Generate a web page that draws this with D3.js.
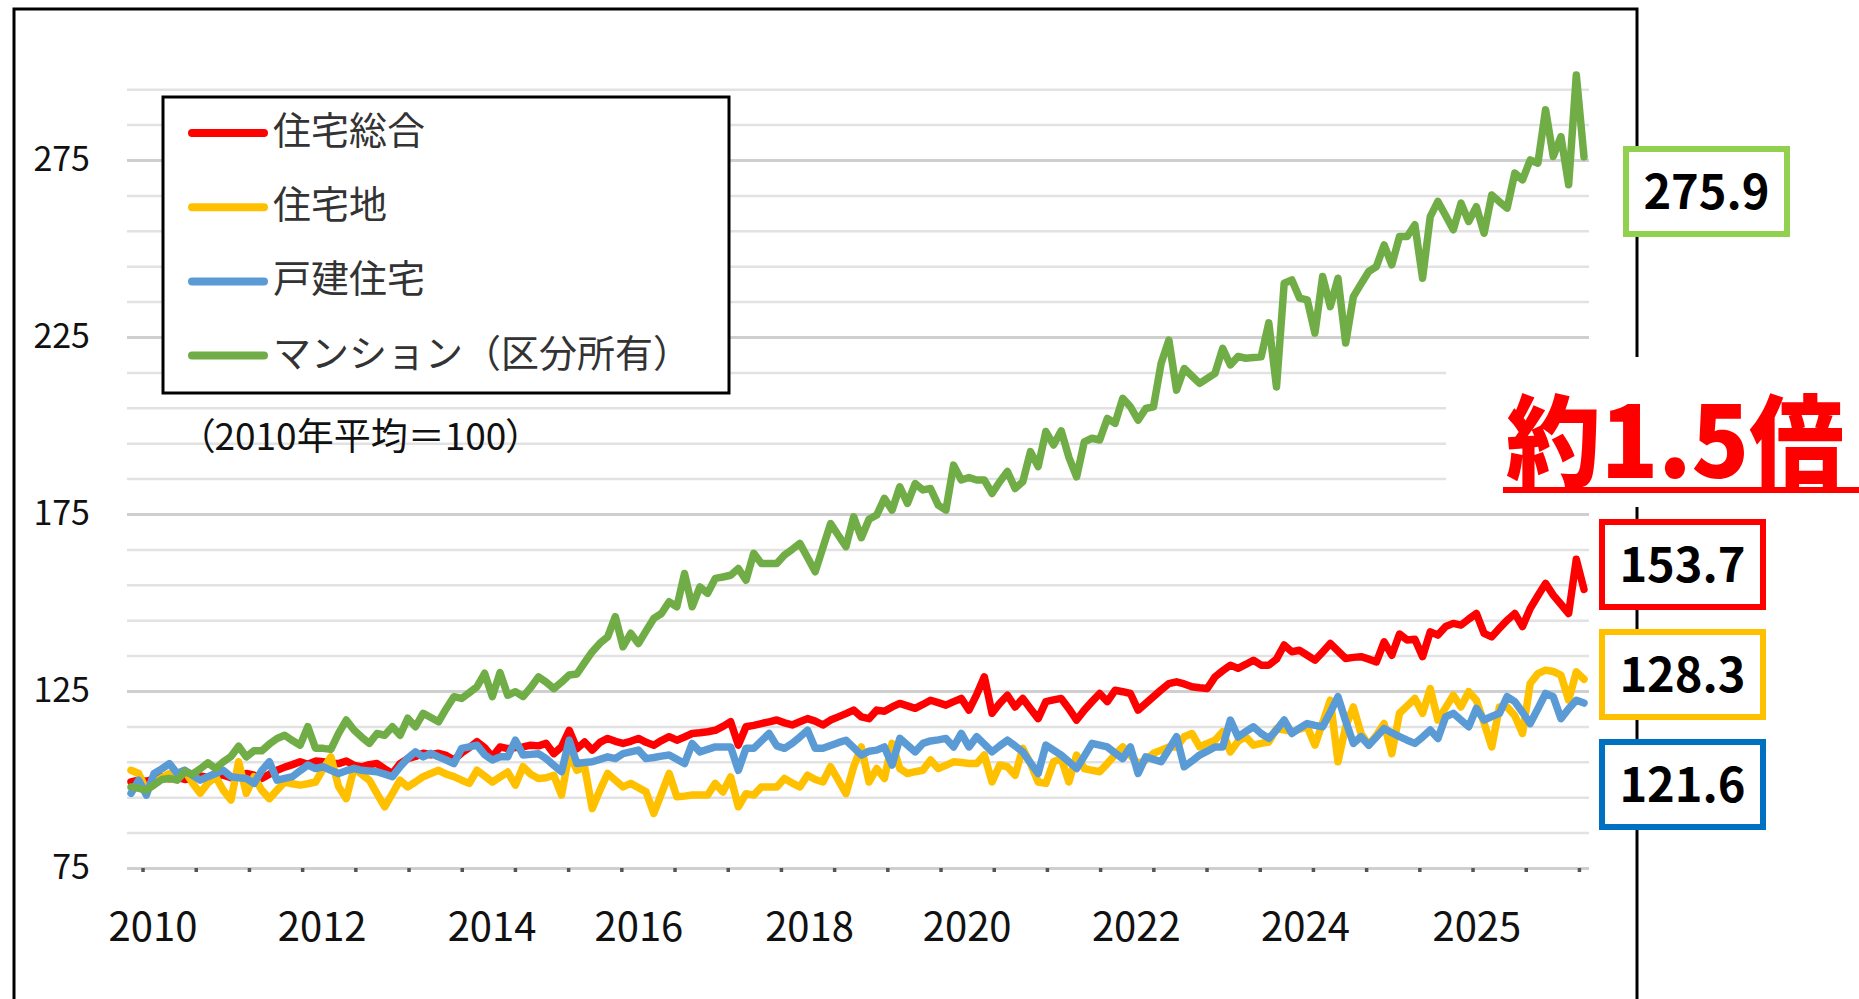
<!DOCTYPE html>
<html lang="ja">
<head>
<meta charset="utf-8">
<script src="https://cdn.jsdelivr.net/npm/d3@7"></script>
<style>
  body { margin: 0; background: #fff; }
  svg { display: block; background: #fff; }
  text { font-family: "Noto Sans CJK JP", "Noto Sans", sans-serif; }
</style>
</head>
<body>
<svg id="chart" width="1859" height="999"></svg>
<script>
// 不動産価格指数（2010年平均＝100、月次）
const seriesNames = ["住宅総合", "住宅地", "戸建住宅", "マンション（区分所有）"];

const sogo = [
  99.3, 99.8, 99.5, 100.2, 100.8, 100.2, 100.6, 100.0, 100.3, 101.0,
  100.6, 101.5, 101.2, 100.5, 101.0, 101.7, 101.2, 100.3, 101.5, 102.6,
  103.5, 104.2, 105.0, 104.3, 105.2, 105.0, 104.6, 104.5, 105.2, 104.0,
  103.6, 104.2, 104.5, 103.0, 101.7, 104.5, 105.9, 106.5, 107.4, 107.0,
  107.4, 106.8, 105.5, 107.5, 109.0, 110.7, 109.0, 106.4, 109.2, 108.7,
  109.0, 109.2, 109.7, 109.5, 110.2, 107.3, 109.2, 113.9, 108.7, 110.6,
  108.3, 110.5, 111.6, 110.8, 110.2, 110.8, 111.6, 110.5, 109.7, 111.0,
  112.1, 111.1, 112.0, 113.0, 113.2, 113.5, 113.9, 115.0, 116.3, 109.7,
  114.9, 115.3, 115.8, 116.3, 116.8, 116.0, 115.4, 116.3, 117.2, 116.5,
  115.4, 116.8, 117.7, 118.6, 119.6, 117.7, 117.2, 119.6, 119.3, 120.5,
  121.5, 120.8, 120.1, 121.2, 122.4, 121.7, 121.0, 122.0, 122.9, 119.6,
  124.0, 129.0, 118.7, 121.5, 123.8, 120.5, 122.9, 120.0, 117.2, 122.0,
  122.5, 122.9, 120.0, 116.8, 119.6, 122.0, 124.3, 122.0, 125.2, 124.8,
  124.3, 119.6, 121.5, 123.4, 125.3, 127.1, 127.6, 127.0, 126.2, 125.9,
  125.7, 129.0, 130.7, 132.3, 131.4, 132.5, 133.7, 132.3, 132.3, 134.0,
  138.0, 136.1, 136.5, 135.1, 133.7, 136.0, 138.4, 136.3, 134.2, 134.5,
  134.7, 134.0, 133.2, 138.9, 135.1, 141.1, 139.4, 139.6, 134.7, 141.7,
  140.8, 143.2, 144.1, 143.6, 145.3, 146.9, 141.3, 140.3, 142.7, 145.0,
  146.9, 143.2, 148.3, 151.9, 155.4, 152.1, 149.5, 146.9, 162.2, 153.7
];

const takuchi = [
  102.6, 101.7, 97.0, 98.9, 100.5, 101.7, 101.7, 102.6, 99.0, 96.1,
  99.0, 100.8, 97.0, 94.2, 105.0, 96.1, 100.8, 97.0, 94.6, 97.0,
  99.3, 98.8, 98.4, 98.8, 99.3, 103.0, 106.4, 98.0, 94.6, 103.1,
  101.5, 99.8, 96.0, 92.3, 96.0, 99.8, 97.9, 99.3, 100.8, 101.7,
  102.6, 101.5, 100.8, 99.8, 98.9, 102.6, 101.0, 99.3, 100.7, 102.1,
  98.4, 103.6, 101.5, 100.3, 100.5, 101.2, 95.6, 107.3, 102.6, 103.6,
  91.8, 97.0, 101.7, 99.8, 97.9, 98.9, 97.7, 96.5, 90.4, 96.0,
  101.7, 95.1, 95.3, 95.6, 95.6, 95.6, 98.9, 96.5, 100.7, 92.3,
  96.0, 95.6, 97.9, 97.9, 97.9, 100.3, 99.0, 97.9, 101.2, 100.0,
  99.3, 103.6, 99.8, 96.0, 103.6, 109.2, 99.3, 103.1, 100.3, 110.2,
  103.1, 101.7, 102.2, 102.6, 105.5, 103.1, 104.0, 105.0, 104.8, 104.5,
  104.5, 106.9, 99.3, 104.1, 103.6, 101.2, 108.8, 104.5, 99.3, 98.9,
  105.0, 105.9, 99.3, 106.9, 103.1, 102.6, 102.2, 104.5, 107.0, 109.2,
  106.9, 104.5, 105.5, 107.4, 108.3, 109.2, 109.2, 112.1, 113.0, 109.2,
  110.2, 111.1, 113.5, 107.8, 110.8, 112.1, 109.7, 110.2, 110.6, 114.4,
  114.0, 113.5, 114.2, 114.9, 109.7, 116.0, 122.4, 105.0, 114.9, 120.5,
  113.0, 109.7, 112.5, 115.8, 107.3, 118.7, 120.8, 122.9, 118.7, 125.7,
  116.8, 120.3, 123.8, 120.5, 124.8, 122.4, 116.0, 109.2, 120.5, 120.5,
  118.0, 113.0, 127.1, 129.9, 130.9, 130.5, 129.5, 122.4, 130.4, 128.3
];

const kodate = [
  96.1, 99.8, 95.6, 101.7, 103.0, 104.5, 101.7, 102.6, 101.2, 99.8,
  100.8, 101.7, 102.6, 100.8, 100.5, 100.3, 98.9, 102.5, 105.0, 99.8,
  100.3, 100.8, 102.5, 104.1, 103.1, 103.6, 102.6, 101.7, 102.5, 103.1,
  102.6, 102.4, 102.2, 101.5, 100.8, 103.6, 106.0, 107.8, 106.4, 107.4,
  106.4, 105.5, 104.5, 108.8, 109.2, 109.7, 107.0, 105.5, 106.4, 106.4,
  111.1, 106.9, 107.1, 107.3, 105.9, 104.0, 102.2, 111.1, 104.5, 104.8,
  105.0, 105.7, 106.4, 105.9, 107.3, 107.8, 108.3, 105.9, 106.2, 106.6,
  106.9, 105.7, 104.5, 110.2, 107.8, 108.5, 109.2, 109.2, 109.2, 102.6,
  108.8, 108.8, 110.9, 113.0, 109.5, 108.8, 110.2, 112.0, 113.9, 108.8,
  108.8, 109.6, 110.4, 111.1, 109.0, 106.9, 108.0, 108.3, 109.2, 104.1,
  111.6, 109.7, 107.8, 110.2, 110.9, 111.2, 111.6, 109.2, 113.0, 109.2,
  112.1, 110.0, 107.8, 109.5, 111.1, 109.5, 107.8, 104.7, 101.7, 109.7,
  108.3, 106.9, 105.0, 103.1, 106.6, 110.2, 109.7, 109.2, 107.5, 105.9,
  109.2, 101.7, 106.4, 105.7, 105.0, 108.5, 112.1, 103.6, 105.2, 106.9,
  108.0, 109.2, 109.2, 116.8, 112.0, 113.5, 114.9, 113.0, 111.6, 114.0,
  116.8, 113.0, 114.5, 115.8, 115.3, 114.9, 119.0, 123.4, 116.5, 110.2,
  112.1, 109.7, 112.0, 114.4, 113.2, 112.1, 111.1, 110.2, 112.0, 114.0,
  111.6, 117.7, 118.7, 116.8, 114.9, 120.1, 116.8, 117.8, 118.7, 123.4,
  122.0, 119.0, 115.8, 120.0, 124.3, 123.4, 117.2, 120.0, 122.4, 121.6
];

const mansion = [
  97.9, 97.5, 97.0, 98.5, 100.0, 100.3, 99.8, 102.2, 101.5, 103.0,
  104.7, 103.1, 105.0, 106.5, 109.4, 106.4, 108.1, 108.1, 110.0, 111.6,
  112.5, 111.0, 109.7, 114.9, 108.8, 108.8, 108.5, 113.0, 116.8, 114.0,
  112.0, 110.2, 113.0, 112.5, 114.9, 112.5, 117.3, 114.9, 118.7, 117.5,
  116.3, 120.0, 123.4, 122.9, 124.5, 126.2, 130.0, 123.4, 130.2, 123.8,
  124.8, 123.4, 126.0, 129.0, 127.5, 125.7, 127.5, 129.5, 129.8, 133.0,
  136.1, 138.5, 140.3, 146.0, 137.5, 141.3, 138.4, 142.0, 145.5, 146.9,
  150.2, 148.8, 158.2, 148.8, 154.4, 152.6, 156.8, 157.2, 157.7, 159.6,
  156.3, 163.9, 161.0, 161.0, 161.0, 163.4, 165.0, 166.7, 162.7, 158.7,
  165.5, 172.3, 169.0, 165.8, 174.2, 168.3, 173.5, 174.7, 179.4, 176.1,
  182.7, 178.0, 183.6, 181.8, 182.2, 177.5, 176.1, 188.8, 184.6, 185.3,
  184.6, 184.6, 180.8, 184.1, 187.0, 182.2, 184.1, 192.6, 188.4, 198.3,
  194.5, 198.5, 191.0, 185.5, 195.4, 196.4, 195.9, 202.0, 200.6, 207.7,
  205.3, 201.5, 204.8, 205.3, 217.6, 224.1, 210.0, 216.1, 214.0, 211.9,
  213.3, 214.7, 221.8, 217.1, 219.5, 219.0, 219.2, 219.4, 229.0, 210.9,
  240.2, 241.1, 236.0, 235.5, 226.1, 242.1, 233.6, 241.6, 223.3, 236.4,
  240.0, 243.5, 244.9, 251.0, 245.4, 253.4, 253.4, 256.7, 241.6, 259.0,
  263.3, 259.3, 255.3, 262.8, 257.6, 261.8, 254.3, 265.1, 263.2, 261.4,
  271.3, 269.4, 275.0, 274.1, 289.2, 276.0, 281.6, 268.0, 299.0, 275.9
];

// 目盛
const yGridValues = d3.range(75, 296, 10);
const yTickLabels = [75, 125, 175, 225, 275];
const xLabels = ["2010", "2012", "2014", "2016", "2018", "2020", "2022", "2024", "2025"];
const xLabelAt = [2.8, 24.8, 46.9, 66.0, 88.2, 108.7, 130.7, 152.7, 175.0];
const tickStart = 1.5;
const tickEvery = 6.92;

const noteText = "（2010年平均＝100）";
const ratioText = "約1.5倍";

function main() {
    const svg = d3.select("#chart");

    const series = [sogo, takuchi, kodate, mansion];
    const lineColors = ["#ff0000", "#ffc000", "#5b9bd5", "#70ad47"];
    const boxColors = ["#ff0000", "#ffc000", "#0070c0", "#92d050"];

    const n = sogo.length;
    const x = d3.scaleLinear().domain([0, n - 1]).range([131, 1584]);
    const y = d3.scaleLinear().domain([75, 275]).range([868, 160]);

    /**グリッドの左右端*/
    const gridLeft = 127;
    const gridRight = 1589;

    // 横グリッド線
    const grid = svg.append("g")
        .attr("transform", `translate(${gridLeft},0)`)
        .call(d3.axisLeft(y).tickValues(yGridValues).tickSize(-(gridRight - gridLeft)).tickFormat(""));
    grid.select(".domain").remove();
    grid.selectAll(".tick line")
        .attr("stroke", d => (d - 75) % 50 === 0 ? "#cfcfcf" : "#e2e2e2")
        .attr("stroke-width", d => (d - 75) % 50 === 0 ? 3 : 2.5);

    // x軸の目盛り（点）
    const tickIdx = d3.range(tickStart, n, tickEvery);
    const ticks = svg.append("g")
        .attr("transform", "translate(0,868)")
        .call(d3.axisBottom(x).tickValues(tickIdx).tickSize(4).tickFormat(""));
    ticks.select(".domain").remove();
    ticks.selectAll(".tick line").attr("stroke", "#555").attr("stroke-width", 3.5);

    // 折れ線
    const line = d3.line()
        .x((d, i) => x(i))
        .y(d => y(d));

    series.forEach((values, k) => {
        svg.append("path")
            .datum(values)
            .attr("d", line)
            .attr("fill", "none")
            .attr("stroke", lineColors[k])
            .attr("stroke-width", 7.5)
            .attr("stroke-linejoin", "round")
            .attr("stroke-linecap", "round");
    });

    // 凡例
    svg.append("rect")
        .attr("x", 163).attr("y", 97)
        .attr("width", 566).attr("height", 296)
        .attr("fill", "#fff").attr("stroke", "#000").attr("stroke-width", 3);

    seriesNames.forEach((name, k) => {
        const ly = 133 + k * 74.2;
        svg.append("line")
            .attr("x1", 192).attr("x2", 264)
            .attr("y1", ly).attr("y2", ly)
            .attr("stroke", lineColors[k])
            .attr("stroke-width", 8)
            .attr("stroke-linecap", "round");
        svg.append("text")
            .attr("x", 273).attr("y", ly + 11)
            .attr("font-size", 38)
            .attr("fill", "#333")
            .text(name);
    });

    // 注記
    svg.append("text")
        .attr("x", 196).attr("y", 450)
        .attr("font-size", 37)
        .attr("fill", "#111")
        .style("font-feature-settings", "'palt'")
        .text(noteText);

    // y軸ラベル
    const yAxis = svg.append("g")
        .attr("transform", "translate(90,0)")
        .call(d3.axisLeft(y).tickValues(yTickLabels).tickSize(0).tickPadding(0));
    yAxis.select(".domain").remove();
    yAxis.selectAll("text")
        .attr("font-size", 34)
        .attr("font-family", "'Noto Sans CJK JP', sans-serif")
        .attr("fill", "#111");

    // x軸ラベル
    const xAxis = svg.append("g")
        .attr("transform", "translate(0,868)")
        .call(d3.axisBottom(x).tickValues(xLabelAt).tickSize(0).tickPadding(45)
            .tickFormat((d, i) => xLabels[i]));
    xAxis.select(".domain").remove();
    xAxis.selectAll("text")
        .attr("font-size", 40)
        .attr("font-family", "'Noto Sans CJK JP', sans-serif")
        .attr("fill", "#111");

    // 外枠
    svg.append("rect")
        .attr("x", 14).attr("y", 9)
        .attr("width", 1623).attr("height", 1020)
        .attr("fill", "none").attr("stroke", "#000").attr("stroke-width", 3);

    // 約1.5倍
    svg.append("rect")
        .attr("x", 1446).attr("y", 357)
        .attr("width", 413).attr("height", 150)
        .attr("fill", "#fff");
    svg.append("text")
        .attr("x", 1506).attr("y", 478)
        .attr("font-size", 99)
        .attr("font-weight", 900)
        .attr("textLength", 338)
        .attr("lengthAdjust", "spacingAndGlyphs")
        .attr("fill", "#ff0000")
        .text(ratioText);
    svg.append("line")
        .attr("x1", 1503).attr("x2", 1859)
        .attr("y1", 490).attr("y2", 490)
        .attr("stroke", "#ff0000").attr("stroke-width", 6);

    /** 最新値の枠を描画する関数
     *
     * @param {number} bx 枠の左(x)
     * @param {number} by 枠の上(y)
     * @param {number[]} values 系列の値
     * @param {string} color 枠の色
     */
    function drawValueBox(bx, by, values, color) {
        const w = 161, h = 85;
        svg.append("rect")
            .attr("x", bx).attr("y", by)
            .attr("width", w).attr("height", h)
            .attr("fill", "#fff")
            .attr("stroke", color)
            .attr("stroke-width", 6);
        svg.append("text")
            .attr("x", bx + w / 2).attr("y", by + h / 2 + 17)
            .attr("text-anchor", "middle")
            .attr("font-size", 47)
            .attr("font-weight", "bold")
            .attr("font-family", "'Liberation Sans', Arial, sans-serif")
            .attr("fill", "#000")
            .text(d3.format(".1f")(values[values.length - 1]));
    }

    drawValueBox(1626, 149, mansion, boxColors[3]);
    drawValueBox(1602, 522, sogo, boxColors[0]);
    drawValueBox(1602, 632, takuchi, boxColors[1]);
    drawValueBox(1602, 742, kodate, boxColors[2]);
}

main();
</script>
</body>
</html>
